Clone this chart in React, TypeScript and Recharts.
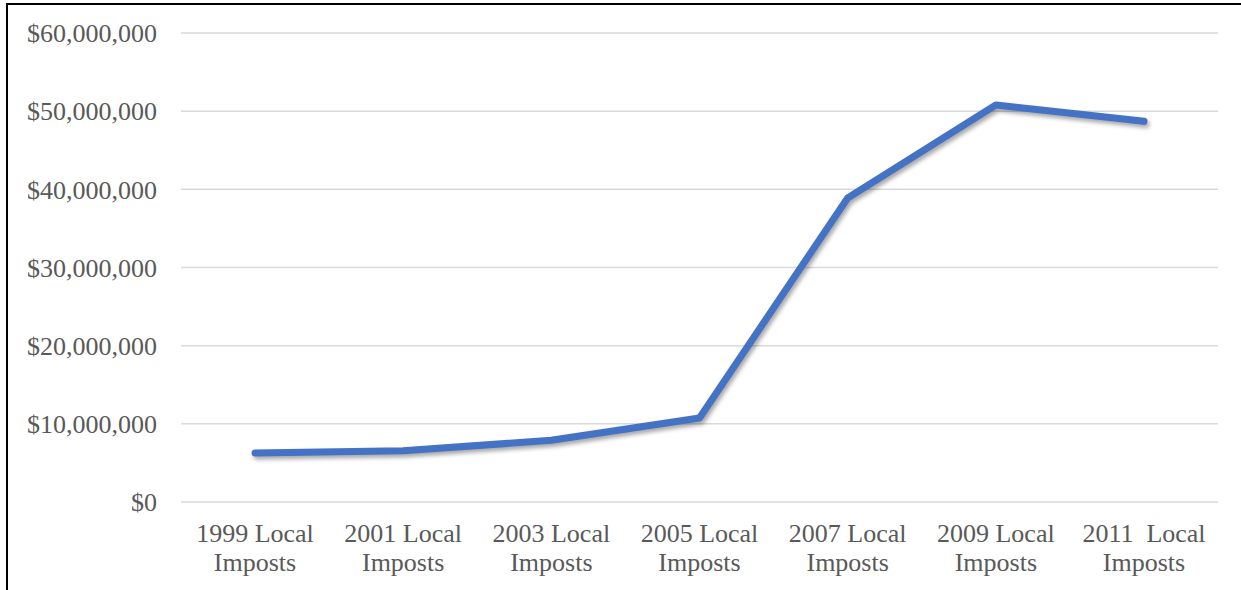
import { LineChart, Line, XAxis, YAxis, CartesianGrid } from 'recharts';

const categories = [
  '1999 Local Imposts',
  '2001 Local Imposts',
  '2003 Local Imposts',
  '2005 Local Imposts',
  '2007 Local Imposts',
  '2009 Local Imposts',
  '2011  Local Imposts',
];

const imposts = [6260000, 6560000, 7890000, 10750000, 38900000, 50800000, 48700000];

const yTicks = [0, 10000000, 20000000, 30000000, 40000000, 50000000, 60000000];

const data = categories.map((name, i) => ({ name, value: imposts[i] }));

const FONT = '"Liberation Serif", "Times New Roman", serif';
const TEXT = '#595959';

const formatDollars = (v: number) => '$' + v.toLocaleString('en-US');

// two-line category label: "1999 Local" over "Imposts"
function CategoryTick(props: any) {
  const { x, y, payload } = props;
  const label: string = payload.value;
  const cut = label.lastIndexOf(' ');
  const first = label.slice(0, cut);
  const second = label.slice(cut + 1);
  return (
    <text
      x={x}
      y={y}
      textAnchor="middle"
      fill={TEXT}
      fontFamily={FONT}
      fontSize={26}
      style={{ whiteSpace: 'pre' }}
    >
      <tspan x={x} dy={32}>{first}</tspan>
      <tspan x={x} dy={29}>{second}</tspan>
    </text>
  );
}

export default function App() {
  return (
    <div style={{ position: 'absolute', left: 0, top: 0, width: 1241, height: 590, background: '#fff' }}>
      <style>{`.recharts-line-curve { filter: drop-shadow(2px 3px 2px rgba(0,0,0,0.35)); }`}</style>
      <div
        style={{
          position: 'absolute',
          left: 6,
          top: 3,
          right: -10,
          bottom: -10,
          borderLeft: '2px solid #000',
          borderTop: '2px solid #000',
        }}
      />
      <LineChart
        width={1241}
        height={590}
        data={data}
        margin={{ top: 33, right: 23, bottom: 0, left: 0 }}
      >
        <CartesianGrid vertical={false} stroke="#d9d9d9" strokeWidth={1.5} />
        <XAxis
          dataKey="name"
          axisLine={false}
          tickLine={false}
          interval={0}
          padding={{ left: 74, right: 74 }}
          tick={<CategoryTick />}
          height={88}
        />
        <YAxis
          width={181}
          domain={[0, 60000000]}
          ticks={yTicks}
          axisLine={false}
          tickLine={false}
          tickSize={0}
          tickMargin={24}
          tickFormatter={formatDollars}
          tick={{ fill: TEXT, fontFamily: FONT, fontSize: 26 }}
        />
        <Line
          type="linear"
          dataKey="value"
          stroke="#4472c4"
          strokeWidth={7}
          strokeLinecap="round"
          strokeLinejoin="round"
          dot={false}
          activeDot={false}
          isAnimationActive={false}
        />
      </LineChart>
    </div>
  );
}
